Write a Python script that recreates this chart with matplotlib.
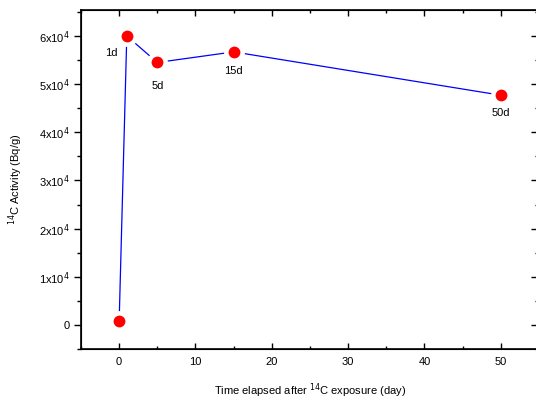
import matplotlib
matplotlib.use("Agg")
import matplotlib.pyplot as plt
from matplotlib.ticker import MultipleLocator

plt.rcParams['font.family'] = ['Liberation Sans', 'DejaVu Sans']

days = [0, 1, 5, 15, 50]
activity = [800, 60000, 54500, 56700, 47700]
labels = ["", "1d", "5d", "15d", "50d"]
label_dx = [0, -11, 0, 0, 0]
label_dy = [0, -12, -17, -14, -13]
yticks = [0, 10000, 20000, 30000, 40000, 50000, 60000]
yticklabels = ["0"] + [f"{k}x10$^4$" for k in range(1, 7)]
xticks = [0, 10, 20, 30, 40, 50]

fig = plt.figure(figsize=(5.36, 4.01), dpi=100)
ax = fig.add_axes([0.1511, 0.1297, 0.8545, 0.8454])

ax.plot(days, activity, color="#0000ff", lw=0.9, zorder=2)
ax.plot(days, activity, "o", ms=15, color="white", mec="none", zorder=3)
ax.plot(days, activity, "o", ms=8.5, color="#ff0000", mec="none", zorder=4)

for x, y, t, dx, dy in zip(days, activity, labels, label_dx, label_dy):
    if t:
        ax.annotate(t, (x, y), xytext=(dx, dy), textcoords="offset points",
                    ha="center", va="center", fontsize=8, zorder=5)

ax.set_xlim(-5, 55)
ax.set_ylim(-5000, 65400)
ax.set_xticks(xticks)
ax.xaxis.set_minor_locator(MultipleLocator(5))
ax.set_yticks(yticks)
ax.set_yticklabels(yticklabels)
ax.yaxis.set_minor_locator(MultipleLocator(5000))

ax.tick_params(axis="x", which="both", direction="in", top=True, bottom=True, labelsize=8, pad=6)
ax.tick_params(axis="x", which="major", length=4, width=1)
ax.tick_params(axis="x", which="minor", length=2, width=1)
ax.tick_params(axis="y", which="both", direction="out", left=True, right=False, labelsize=8, pad=3)
ax.tick_params(axis="y", which="major", length=5, width=1)
ax.tick_params(axis="y", which="minor", length=3, width=1)
for s in ax.spines.values():
    s.set_linewidth(1.2)

# inward ticks on the right side
ax2 = ax.twinx()
ax2.set_ylim(ax.get_ylim())
ax2.set_yticks(yticks)
ax2.yaxis.set_minor_locator(MultipleLocator(5000))
ax2.tick_params(axis="y", which="both", direction="in", labelright=False)
ax2.tick_params(axis="y", which="major", length=6, width=1)
ax2.tick_params(axis="y", which="minor", length=3, width=1)

ax.set_xlabel("Time elapsed after $^{14}$C exposure (day)", fontsize=8, labelpad=10)
ax.set_ylabel("$^{14}$C Activity (Bq/g)", fontsize=8, labelpad=10)

fig.savefig("out.png", dpi=100)
